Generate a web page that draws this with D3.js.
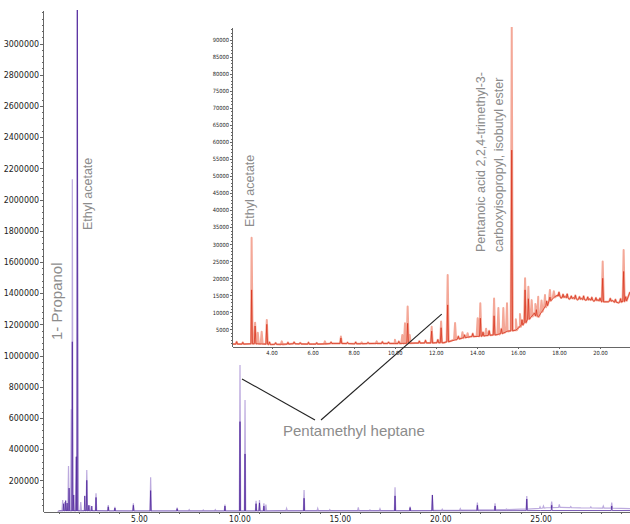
<!DOCTYPE html>
<html>
<head>
<meta charset="utf-8">
<script src="https://cdn.jsdelivr.net/npm/d3@7"></script>
<style>
  html, body { margin: 0; padding: 0; background: #fff; }
  svg { display: block; }
  .axis text { font-family: "Liberation Sans Narrow", "Arial Narrow", "DejaVu Sans Condensed", sans-serif; fill: #222; }
  .axis path, .axis line { stroke: #666; shape-rendering: crispEdges; }
  .note { font-family: "Liberation Sans", Arial, sans-serif; fill: #8c8c8c; }
</style>
</head>
<body>
<svg id="chart" width="630" height="524"></svg>
<script>
// ---- Main chromatogram (retention time in min, abundance) ----
const mainTimeTicks = [5, 10, 15, 20, 25];
const mainValueTicks = [200000, 400000, 600000, 800000, 1000000, 1200000, 1400000,
  1600000, 1800000, 2000000, 2200000, 2400000, 2600000, 2800000, 3000000];

// baseline knots [time, abundance]
const mainBaselineLight = [[0.95, 0], [1.05, 6000], [2.0, 6000], [3.0, 5000], [5, 4000], [9, 4000],
  [12, 5000], [15, 5000], [18, 6000], [20, 8000], [22, 10000], [23, 12000], [24, 15000],
  [25.3, 24000], [26, 26000], [27, 23000], [28, 22000], [29.45, 19000]];
const mainBaselineDark = [[0.95, 0], [1.05, 3000], [5, 2000], [10, 2000], [15, 2500],
  [20, 3500], [25, 6000], [29.45, 6000]];

// peaks [time, apex, base]
const mainPeaksLight = [
  [1.20, 74000, 6000], [1.30, 60000, 6000], [1.49, 291000, 6000], [1.63, 655000, 6000],
  [1.68, 2130000, 6000], [1.88, 351000, 6000], [1.93, 3215000, 6000], [2.10, 60000, 6000],
  [2.40, 266000, 6000], [2.55, 40000, 6000], [2.86, 117000, 5000], [3.47, 42000, 4500],
  [3.80, 30000, 4000], [4.72, 52000, 4000], [5.58, 219000, 4000], [6.90, 25000, 4000],
  [7.50, 12000, 4000], [8.20, 10000, 4000], [8.80, 12000, 4000],
  [9.28, 45000, 4000], [10.03, 939000, 4000], [10.28, 715000, 4000], [10.83, 69000, 4500],
  [11.00, 74000, 4500], [11.22, 52000, 4500], [11.32, 45000, 4500], [12.35, 20000, 5000],
  [13.22, 138000, 5000], [13.90, 20000, 5000], [14.50, 12000, 5000], [15.92, 27000, 5000],
  [16.50, 10000, 5500], [17.00, 18000, 6000], [17.75, 155000, 6000], [18.50, 31000, 6000],
  [19.61, 106000, 7500], [20.10, 15000, 8000], [21.00, 18000, 9000], [21.85, 57000, 10000],
  [22.73, 52000, 11500], [23.30, 16000, 12500], [24.31, 99000, 15000], [24.97, 30000, 20000],
  [25.14, 35000, 22000], [25.55, 63000, 25000], [25.93, 45000, 26000], [26.50, 32000, 25000],
  [27.50, 30000, 22500], [28.12, 35000, 22000], [28.54, 57000, 21000]
];
const mainPeaksDark = [
  [1.25, 50000, 3000], [1.35, 70000, 3000], [1.42, 54000, 3000], [1.52, 150000, 3000],
  [1.68, 1088000, 3000], [1.75, 106000, 3000], [1.88, 351000, 3000], [1.93, 3215000, 3000],
  [2.30, 100000, 3000], [2.40, 200000, 3000], [2.50, 40000, 3000], [2.65, 35000, 3000],
  [2.86, 90000, 3000], [3.47, 30000, 2500], [3.80, 22000, 2500], [4.72, 40000, 2000],
  [5.58, 134000, 2000], [6.90, 18000, 2000], [9.28, 35000, 2000], [10.03, 576000, 2000],
  [10.28, 369000, 2000], [10.83, 50000, 2000], [11.00, 55000, 2000], [11.22, 35000, 2000],
  [13.22, 85000, 2500], [17.75, 100000, 3000], [18.50, 25000, 3000], [19.61, 106000, 3500],
  [21.85, 40000, 4000], [22.73, 35000, 4500], [24.31, 80000, 5500], [25.55, 40000, 6000],
  [28.54, 35000, 6000]
];

// ---- Inset chromatogram ----
const insetTimeTicks = [4, 6, 8, 10, 12, 14, 16, 18, 20];
const insetValueTicks = d3.range(5000, 90001, 5000);

const insetBaseline = [[2.08, 700], [3.0, 800], [4.0, 600], [5.0, 800], [6.0, 700], [7.0, 900],
  [8.0, 800], [9.0, 900], [10.0, 900], [11.0, 1000], [12.0, 1100], [12.4, 1100], [13.0, 2000],
  [13.7, 2900], [14.5, 3200], [15.0, 3500], [15.5, 4500], [15.9, 4800], [16.1, 5800],
  [16.6, 8300], [16.8, 9800], [17.0, 8700], [17.2, 10500], [17.5, 13100], [17.8, 14600],
  [17.95, 15100], [18.1, 14200], [18.3, 14700], [18.5, 13900], [18.7, 14300], [18.9, 13700],
  [19.1, 14100], [19.3, 13600], [19.5, 13900], [19.7, 13300], [19.9, 13700], [20.4, 13100],
  [20.6, 13500], [20.9, 12800], [21.05, 13200], [21.3, 13500], [21.46, 16000]];

const insetPeaksLight = [
  [3.03, 31900, 800], [3.20, 7000, 800], [3.33, 4050, 800], [3.52, 4300, 800], [3.77, 7800, 700],
  [4.50, 1500, 600], [6.60, 1500, 700], [7.38, 2900, 900], [8.39, 1200, 800], [9.12, 1500, 900],
  [10.01, 2000, 900], [10.37, 3400, 900], [10.50, 6800, 900], [10.63, 11700, 950],
  [10.73, 3400, 950], [11.80, 5800, 1050], [12.26, 7300, 1100], [12.58, 21000, 1400],
  [12.94, 6900, 2000], [13.30, 4200, 2400], [13.55, 3900, 2700], [14.04, 8300, 3000],
  [14.17, 12700, 3000], [14.45, 5200, 3200], [14.84, 14100, 3400],
  [15.05, 11300, 3500], [15.29, 11300, 4000], [15.47, 12700, 4400], [15.70, 93700, 4600],
  [15.90, 8000, 4800], [16.10, 9500, 5800],
  [16.35, 20000, 7000], [16.51, 17500, 8000], [16.67, 13600, 8800], [16.85, 12500, 9500],
  [16.99, 14600, 8800], [17.15, 13500, 10200],
  [17.32, 15100, 11500], [17.56, 16600, 13400], [17.75, 16200, 14400], [20.13, 24900, 13100],
  [21.15, 28300, 13200]
];
const insetPeaksDark = [
  [3.03, 16600, 800], [3.20, 6000, 800], [3.77, 6500, 700], [7.38, 2500, 900],
  [10.63, 6800, 950], [11.80, 4500, 1050], [12.26, 5500, 1100], [12.58, 12200, 1400],
  [14.17, 8300, 3000], [14.84, 9000, 3400], [15.70, 57600, 4600], [16.35, 16600, 7000],
  [16.51, 14000, 8000], [17.56, 14500, 13400], [20.13, 20000, 13100], [21.15, 22000, 13200]
];
// small baseline wiggles [time, apex, base]
const insetRipple = [
  [2.3, 1400, 700], [2.6, 1200, 700], [3.9, 1300, 600], [4.2, 1100, 650], [4.8, 1200, 700],
  [5.1, 1300, 800], [5.4, 1100, 750], [5.8, 1200, 700], [6.2, 1100, 700], [6.9, 1300, 850],
  [7.7, 1200, 850], [8.1, 1300, 800], [8.7, 1200, 850], [9.4, 1400, 900], [9.7, 1300, 900],
  [10.2, 1500, 900], [11.2, 1600, 1000], [11.5, 1800, 1050], [12.1, 2000, 1100],
  [13.1, 3000, 2200], [13.4, 3400, 2600], [13.8, 3800, 2900], [14.3, 4200, 3100],
  [14.6, 4600, 3300], [15.2, 5200, 3800], [16.2, 7800, 6300], [16.9, 10800, 9000],
  [17.4, 13300, 12000], [18.0, 15900, 14800], [18.2, 15300, 14400], [18.4, 15400, 14300],
  [18.6, 14800, 14100], [18.8, 15000, 14000], [19.0, 14600, 13900], [19.2, 14800, 13800],
  [19.4, 14500, 13700], [19.6, 14400, 13600], [19.8, 14300, 13500], [20.0, 14200, 13400],
  [20.5, 14100, 13300], [20.75, 13800, 13000], [21.0, 14000, 13000], [21.25, 14600, 13400]
];

// ---- Layout ----
const svg = d3.select("#chart");

const xMain = d3.scaleLinear().domain([0.22, 29.45]).range([43, 630]);
const yMain = d3.scaleLinear().domain([0, 3215000]).range([511.5, 10]);

const xIn = d3.scaleLinear().domain([2.075, 21.46]).range([232, 630]);
const yIn = d3.scaleLinear().domain([0, 93700]).range([346.5, 27]);

// Merge baseline knots and peak triangles into one trace
function tracePoints(baseline, peaks, w) {
  const pts = baseline.map(d => [d[0], d[1]]);
  peaks.forEach(([t, v, b]) => { pts.push([t - w, b], [t, v], [t + w, b]); });
  return pts.sort((a, b) => a[0] - b[0]);
}

svg.append("clipPath").attr("id", "clipMain")
  .append("rect").attr("x", 43).attr("y", 10).attr("width", 587).attr("height", 501.5);
svg.append("clipPath").attr("id", "clipIn")
  .append("rect").attr("x", 232).attr("y", 27).attr("width", 398).attr("height", 319.5);

// Main traces
const lineMain = d3.line().x(d => xMain(d[0])).y(d => yMain(d[1]));
const gMain = svg.append("g").attr("clip-path", "url(#clipMain)");
gMain.append("path")
  .attr("d", lineMain(tracePoints(mainBaselineLight, mainPeaksLight, 0.035)))
  .attr("fill", "none").attr("stroke", "#bcaade").attr("stroke-width", 1.2);
gMain.append("path")
  .attr("d", lineMain(tracePoints(mainBaselineDark, mainPeaksDark, 0.025)))
  .attr("fill", "none").attr("stroke", "#52289c").attr("stroke-width", 0.8);

// Main axes
const axY = svg.append("g").attr("class", "axis").attr("transform", "translate(43,0)")
  .call(d3.axisLeft(yMain).tickValues(mainValueTicks).tickSize(3).tickSizeOuter(0)
    .tickPadding(1).tickFormat(d3.format("d")));
axY.selectAll("text").attr("font-size", 8.8);
svg.append("g").attr("class", "axis").attr("transform", "translate(43,0)")
  .call(d3.axisLeft(yMain).tickValues(d3.range(40000, 3215000, 40000)).tickSize(1.5)
    .tickFormat(""))
  .select(".domain").remove();

const axX = svg.append("g").attr("class", "axis").attr("transform", "translate(0,511.5)")
  .call(d3.axisBottom(xMain).tickValues(mainTimeTicks).tickSize(3).tickSizeOuter(0)
    .tickPadding(1.5).tickFormat(d3.format(".2f")));
axX.selectAll("text").attr("font-size", 8.4);
svg.append("g").attr("class", "axis").attr("transform", "translate(0,511.5)")
  .call(d3.axisBottom(xMain).tickValues(d3.range(1, 30, 1)).tickSize(2.5).tickFormat(""))
  .select(".domain").remove();

// Inset traces
const lineIn = d3.line().x(d => xIn(d[0])).y(d => yIn(d[1]));
const gIn = svg.append("g").attr("clip-path", "url(#clipIn)");
gIn.append("path")
  .attr("d", lineIn(tracePoints(insetBaseline, insetPeaksLight.concat(insetRipple), 0.05)))
  .attr("fill", "none").attr("stroke", "#f4a898").attr("stroke-width", 2)
  .attr("stroke-linejoin", "round");
gIn.append("path")
  .attr("d", lineIn(tracePoints(insetBaseline, insetPeaksDark.concat(insetRipple), 0.04)))
  .attr("fill", "none").attr("stroke", "#d8361f").attr("stroke-width", 0.8);

// Inset axes
const axYIn = svg.append("g").attr("class", "axis").attr("transform", "translate(232,0)")
  .call(d3.axisLeft(yIn).tickValues(insetValueTicks).tickSize(2).tickSizeOuter(0)
    .tickPadding(1).tickFormat(d3.format("d")));
axYIn.selectAll("text").attr("font-size", 5.7);
svg.append("g").attr("class", "axis").attr("transform", "translate(232,0)")
  .call(d3.axisLeft(yIn).tickValues(d3.range(1000, 93700, 1000)).tickSize(1).tickFormat(""))
  .select(".domain").remove();

const axXIn = svg.append("g").attr("class", "axis").attr("transform", "translate(0,346.5)")
  .call(d3.axisBottom(xIn).tickValues(insetTimeTicks).tickSize(2.5).tickSizeOuter(0)
    .tickPadding(2).tickFormat(d3.format(".2f")));
axXIn.selectAll("text").attr("font-size", 5.7);
svg.append("g").attr("class", "axis").attr("transform", "translate(0,346.5)")
  .call(d3.axisBottom(xIn).tickValues(d3.range(2.5, 21.46, 0.5)).tickSize(1.8).tickFormat(""))
  .select(".domain").remove();

// Compound labels
function vLabel(x, y, text, size) {
  return svg.append("text").attr("class", "note")
    .attr("transform", `translate(${x},${y}) rotate(-90)`)
    .attr("font-size", size).text(text);
}
vLabel(62, 340, "1- Propanol", 15);
vLabel(92, 230, "Ethyl acetate", 12.5);
vLabel(254, 227, "Ethyl acetate", 12.5);
vLabel(485, 252, "Pentanoic acid 2,2,4-trimethyl-3-", 12.5);
vLabel(503, 252, "carboxyisopropyl, isobutyl ester", 12.5);

svg.append("text").attr("class", "note")
  .attr("x", 283).attr("y", 436).attr("font-size", 15)
  .text("Pentamethyl heptane");

// Pointer lines from the label to the peaks in both runs
const labelTip = [318, 420];
svg.append("line")
  .attr("x1", xMain(10.13)).attr("y1", yMain(850000))
  .attr("x2", labelTip[0] - 3).attr("y2", labelTip[1])
  .attr("stroke", "#222").attr("stroke-width", 1.1);
svg.append("line")
  .attr("x1", labelTip[0] + 3).attr("y1", labelTip[1])
  .attr("x2", xIn(12.29)).attr("y2", yIn(9500))
  .attr("stroke", "#222").attr("stroke-width", 1.1);
</script>
</body>
</html>
